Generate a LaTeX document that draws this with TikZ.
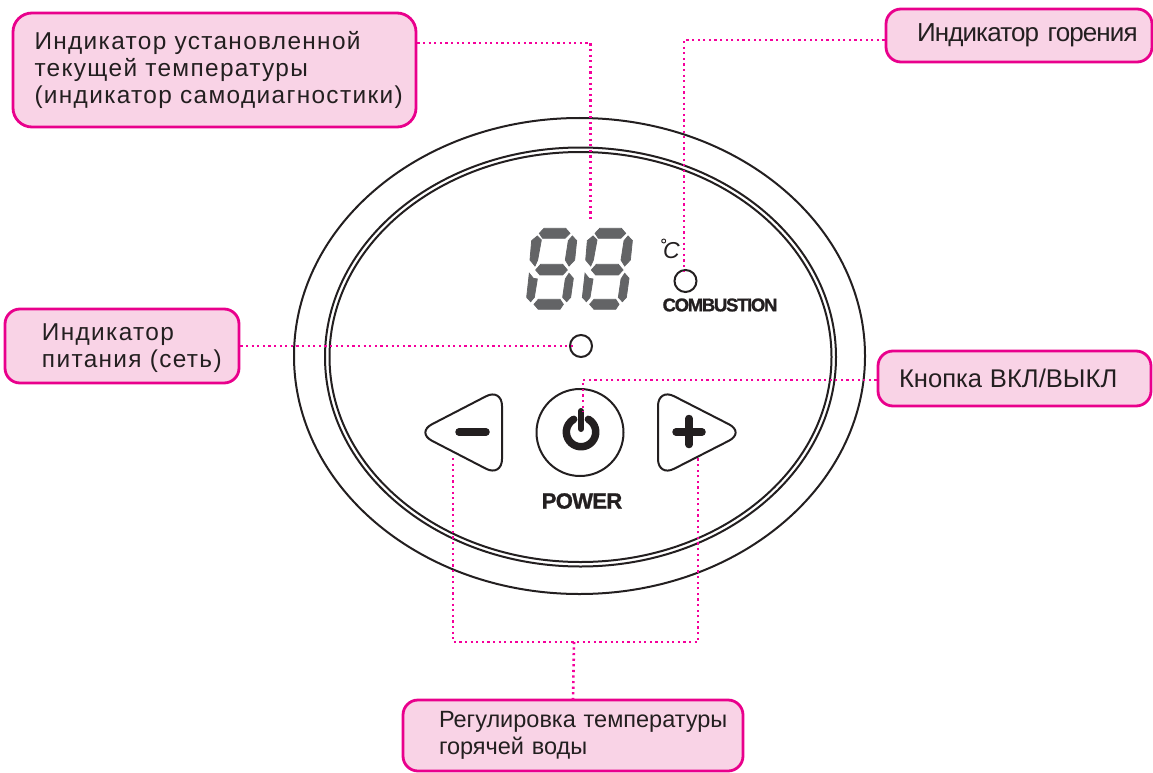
\documentclass[tikz,border=0pt]{standalone}
\usepackage{fontspec}
\usepackage{tikz}
\usetikzlibrary{calc}
\setmainfont{Liberation Sans}
\newfontfamily\wideface[LetterSpace=5.5]{Liberation Sans}
\newfontfamily\tightface[LetterSpace=-3.4]{Liberation Sans}
\newfontfamily\plainface{Liberation Sans}
\newfontfamily\panelface[LetterSpace=-3,FakeBold=1.2]{Liberation Sans Bold}
\newfontfamily\smallpanelface[LetterSpace=-7,FakeBold=1.2]{Liberation Sans Bold}
\definecolor{calloutline}{HTML}{E9008C}
\definecolor{calloutfill}{HTML}{F9D3E6}
\definecolor{leader}{HTML}{F5009B}
\definecolor{ink}{HTML}{231F20}
\definecolor{lcdgray}{HTML}{636466}
\tikzstyle{callout} = [rectangle, rounded corners=19pt, draw=calloutline, fill=calloutfill, line width=2.8pt, align=left, text=ink, inner ysep=0pt, inner xsep=0pt]
\tikzstyle{wide} = [font=\fontsize{24.4}{27}\selectfont\wideface]
\tikzstyle{tight} = [font=\fontsize{26}{27}\selectfont\tightface]
\tikzstyle{plain} = [font=\fontsize{23.5}{27}\selectfont\plainface]
\tikzstyle{leaderline} = [draw=leader, line width=2.6pt, dash pattern=on 2.2pt off 3.4pt]
\tikzstyle{outline} = [draw=ink, line width=2pt]
\tikzstyle{led} = [circle, draw=ink, line width=2pt, minimum size=22pt, inner sep=0pt]
\tikzstyle{icon} = [draw=ink, line width=7.5pt, line cap=round]
\tikzstyle{segment} = [fill=lcdgray, draw=lcdgray, line width=0.8pt]
\begin{document}
\begin{tikzpicture}[x=1pt,y=-1pt]
\useasboundingbox (0,0) rectangle (1153,773);
\draw [outline] (579.5,356) ellipse [x radius=285.5, y radius=238];
\draw [outline] (580.5,357) ellipse [x radius=255.5, y radius=209.5];
\draw [outline] (580.5,357) ellipse [x radius=251, y radius=205];

\foreach \dx in {0,55.7} {
\begin{scope}[shift={(500+\dx,210)},x=0.3333pt,y=-0.3333pt]
\path [segment] (118,70) -- (132,55) -- (197,55) -- (210,70) -- (195,85) -- (128,85) -- cycle;
\path [segment] (95,92) -- (112,78) -- (124,90) -- (113,150) -- (105,168) -- (90,150) -- cycle;
\path [segment] (217,78) -- (230,92) -- (224,150) -- (207,168) -- (196,150) -- (205,92) -- cycle;
\path [segment] (107,180) -- (122,163) -- (188,163) -- (202,180) -- (188,195) -- (120,195) -- cycle;
\path [segment] (88,190) -- (100,205) -- (112,207) -- (103,262) -- (92,275) -- (80,262) -- cycle;
\path [segment] (207,190) -- (220,205) -- (212,262) -- (200,275) -- (188,262) -- (196,207) -- cycle;
\path [segment] (102,283) -- (115,268) -- (180,268) -- (190,283) -- (180,298) -- (115,298) -- cycle;
\end{scope}
}

\node (degmark) [circle, draw=ink, line width=0.9pt, minimum size=4pt, inner sep=0pt] at (663.7,241) {};
\node (degunit) [font=\fontsize{23}{24}\selectfont\plainface\itshape, text=ink, inner sep=0pt] at (671.5,251) {C};
\node (combled) [led] at (685.5,281) {};
\node (combtext) [font=\fontsize{18.5}{20}\selectfont\smallpanelface, text=ink, inner sep=0pt] at (720,305) {COMBUSTION};
\node (powerled) [led] at (581,346) {};

\draw [outline, rounded corners=18pt] (416,432.5) -- (502,388) -- (502,477) -- cycle;
\draw [outline, rounded corners=18pt] (745,432.5) -- (658,388) -- (658,477) -- cycle;
\draw [icon] (459,432) -- (486,432);
\draw [icon] (676,432) -- (702,432);
\draw [icon] (689,418.5) -- (689,444.5);
\node (powerbtn) [circle, draw=ink, line width=2pt, minimum size=87pt, inner sep=0pt] at (580,432.5) {};
\draw [icon] (588.4,419.3) arc [start angle=-60, end angle=240, radius=14.7];
\draw [icon, line width=6pt] (581,411) -- (581,429);
\node (powertext) [font=\fontsize{22}{24}\selectfont\panelface, text=ink, inner sep=0pt] at (582,501) {POWER};

\node (tempbox) [callout, wide, minimum width=403pt, minimum height=114pt, text width=403pt] at (214.5,70) {\hspace*{21.5pt}Индикатор установленной\\\hspace*{21.5pt}текущей температуры\\\hspace*{21.5pt}(индикатор самодиагностики)\rule[-4pt]{0pt}{4pt}};
\node (burnbox) [callout, tight, minimum width=266pt, minimum height=53pt, text width=266pt, rounded corners=15pt] at (1019,35.5) {\hspace*{31pt}Индикатор горения};
\node (mainsbox) [callout, wide, minimum width=234pt, minimum height=74pt, text width=234pt, rounded corners=15pt] at (122,346) {\rule{0pt}{22pt}\hspace*{37pt}Индикатор\\\hspace*{37pt}питания (сеть)};
\node (onoffbox) [callout, plain, minimum width=273pt, minimum height=55pt, text width=273pt, rounded corners=15pt] at (1014.5,378.5) {\fontsize{25.6}{27}\selectfont\hspace*{21pt}Кнопка ВКЛ/ВЫКЛ};
\node (hotbox) [callout, plain, minimum width=340pt, minimum height=71pt, text width=340pt, rounded corners=15pt] at (573,735.5) {\hspace*{36pt}Регулировка температуры\\\hspace*{36pt}горячей воды};

\coordinate (lcdend) at (590.5,222);
\coordinate (combend) at (684,271);
\coordinate (powerend) at (575,346);
\coordinate (btnend) at (583,412);
\coordinate (minusend) at (453,458);
\coordinate (plusend) at (698,458);
\coordinate (hotjoin) at (574,642);

\draw [leaderline] (tempbox.east |- 0,43) -- (590.5,43) -- (lcdend);
\draw [leaderline] (burnbox.west |- 0,40) -- (684,40) -- (combend);
\draw [leaderline] (mainsbox.east) -- (powerend);
\draw [leaderline] (onoffbox.west |- 0,380) -- (583,380) -- (btnend);
\draw [leaderline] (minusend) |- (plusend |- hotjoin) -- (plusend);
\draw [leaderline] (hotbox.north |- 0,700) -- (hotjoin);
\end{tikzpicture}
\end{document}
